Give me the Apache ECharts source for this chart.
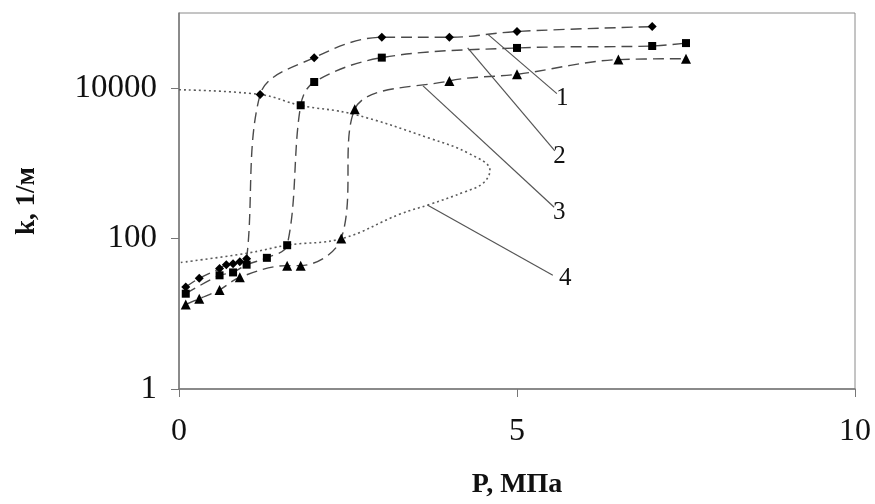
<!DOCTYPE html>
<html>
<head>
<meta charset="utf-8">
<script src="https://cdn.jsdelivr.net/npm/echarts@6/dist/echarts.min.js"></script>
<style>
html,body{margin:0;padding:0;background:#fff;}
#chart{width:875px;height:504px;}
</style>
</head>
<body>
<div id="chart"></div>
<script>
// ---- data (P, MPa ; k, 1/m) ----
const s1P = [0.1, 0.3, 0.6, 0.7, 0.8, 0.9, 1.0, 1.2, 2.0, 3.0, 4.0, 5.0, 7.0];
const s1K = [22.7, 29.7, 40, 45, 46.4, 49.3, 53.8, 8220, 25500, 47500, 47500, 56800, 65900];

const s2P = [0.1, 0.6, 0.8, 1.0, 1.3, 1.6, 1.8, 2.0, 3.0, 5.0, 7.0, 7.5];
const s2K = [18.5, 32.5, 35.5, 45, 55.5, 81.7, 5930, 12100, 25500, 34300, 36400, 39800];

const s3P = [0.1, 0.3, 0.6, 0.9, 1.6, 1.8, 2.4, 2.6, 4.0, 5.0, 6.5, 7.5];
const s3K = [13.3, 15.9, 20.8, 30.6, 43.7, 43.7, 100.6, 5260, 12500, 15300, 24000, 24700];

const s4P = [0, 1.21, 1.79, 2.57, 3.71, 4.3, 4.6, 4.5, 4.23, 3.71, 3.27, 2.41, 1.61, 1.01, 0];
const s4K = [9530, 8220, 5930, 4530, 2155, 1340, 807, 548, 420, 285, 212, 100, 82, 64, 47.8];

const xTicks = [0, 5, 10];
const yTicks = [1, 100, 10000];

const calloutText = ['1', '2', '3', '4'];
const calloutFrom = [[4.57, 52000], [4.27, 34300], [3.61, 10740], [3.68, 277]];
const calloutTo = [[5.59, 8470], [5.56, 1463], [5.55, 261], [5.53, 32.5]];

const xName = 'P, МПа';
const yName = 'k, 1/м';

// ---- chart ----
const zip = (a, b) => a.map((v, i) => [v, b[i]]);
const FONT = 'Liberation Serif';
const chart = echarts.init(document.getElementById('chart'));

const dashLine = { color: '#4a4a4a', width: 1.4, type: [11, 6] };

chart.setOption({
  animation: false,
  backgroundColor: '#fff',
  grid: { left: 179, right: 20, top: 13, bottom: 104, show: true, borderColor: '#8a8a8a', borderWidth: 1 },
  xAxis: {
    type: 'value', min: 0, max: 10, interval: 5,
    name: xName, nameLocation: 'middle', nameGap: 82,
    nameTextStyle: { fontFamily: FONT, fontSize: 28, fontWeight: 'bold', color: '#111' },
    axisLine: { lineStyle: { color: '#777', width: 1.5 } },
    axisTick: { show: true, inside: false, length: 8, lineStyle: { color: '#777' } },
    axisLabel: { fontFamily: FONT, fontSize: 32, color: '#111', margin: 27,
      customValues: xTicks },
    splitLine: { show: false }
  },
  yAxis: {
    type: 'log', logBase: 10, min: 1, max: 100000,
    name: yName, nameLocation: 'middle', nameGap: 138, nameRotate: 90,
    nameTextStyle: { fontFamily: FONT, fontSize: 27, fontWeight: 'bold', color: '#111' },
    axisLine: { show: true, lineStyle: { color: '#777', width: 1.5 } },
    axisTick: { show: true, inside: false, length: 8, lineStyle: { color: '#777' }, customValues: yTicks },
    axisLabel: { fontFamily: FONT, fontSize: 33, color: '#111', margin: 22, customValues: yTicks,
      formatter: v => String(Math.round(v)) },
    splitLine: { show: false }
  },
  series: [
    { type: 'line', data: zip(s1P, s1K), smooth: 0.35, symbol: 'diamond', symbolSize: 9,
      itemStyle: { color: '#000' }, lineStyle: dashLine, z: 3 },
    { type: 'line', data: zip(s2P, s2K), smooth: 0.35, symbol: 'rect', symbolSize: 8,
      itemStyle: { color: '#000' }, lineStyle: dashLine, z: 3 },
    { type: 'line', data: zip(s3P, s3K), smooth: 0.35, symbol: 'triangle', symbolSize: 10,
      itemStyle: { color: '#000' }, lineStyle: dashLine, z: 3 },
    { type: 'line', data: zip(s4P, s4K), smooth: 0.4, symbol: 'none',
      lineStyle: { color: '#5a5a5a', width: 1.6, type: [2, 3] }, z: 2,
      markLine: {
        silent: true, symbol: ['none', 'none'],
        lineStyle: { color: '#555', width: 1.2, type: 'solid' },
        label: { show: true, position: 'end', distance: 7, fontFamily: FONT, fontSize: 25, color: '#111',
          formatter: p => p.name },
        data: calloutText.map((t, i) => [
          { name: t, coord: calloutFrom[i] },
          { coord: calloutTo[i] }
        ])
      }
    }
  ]
});
</script>
</body>
</html>
